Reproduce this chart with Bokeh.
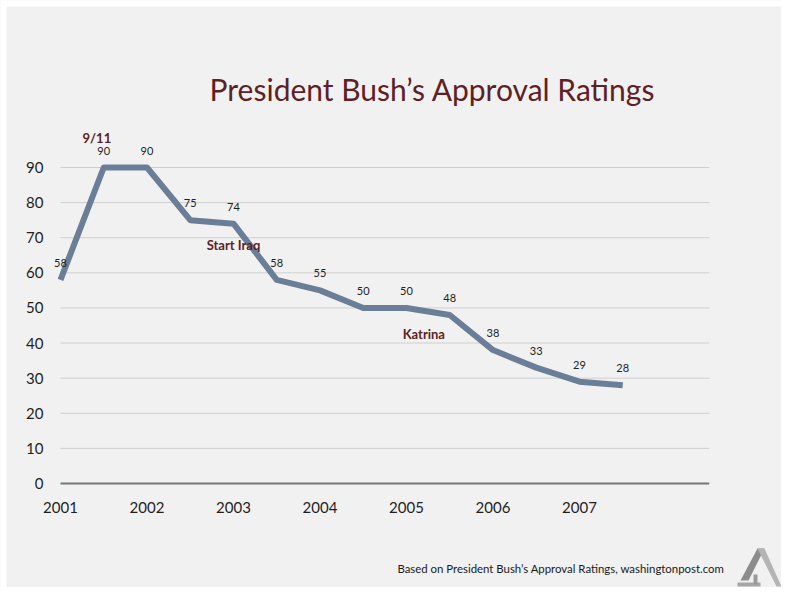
from bokeh.plotting import figure
from bokeh.models import Range1d, FixedTicker, Label, PolyAnnotation, BoxAnnotation, ColumnDataSource
from bokeh.embed import file_html
from bokeh.resources import INLINE
from bokeh.core.properties import value

# ---- data ----
years = [2001.0, 2001.5, 2002.0, 2002.5, 2003.0, 2003.5, 2004.0,
         2004.5, 2005.0, 2005.5, 2006.0, 2006.5, 2007.0, 2007.5]
approval = [58, 90, 90, 75, 74, 58, 55, 50, 50, 48, 38, 33, 29, 28]
year_ticks = [2001, 2002, 2003, 2004, 2005, 2006, 2007]
y_ticks = [0, 10, 20, 30, 40, 50, 60, 70, 80, 90]
event_names = ["9/11", "Start Iraq", "Katrina"]
event_x = [2001.42, 2003.0, 2005.2]
event_y = [98.3, 67.8, 42.7]
title_text = "President Bush\u2019s Approval Ratings"
source_text = "Based on President Bush\u2019s Approval Ratings, washingtonpost.com"

W, H = 781, 587
BG = "#f1f1f1"
MAROON = "#5e1f25"

# layout geometry (pixels)
X0_PX, PX_PER_YEAR = 60.0, 86.5      # where the first year sits, year spacing
Y0_PX, PX_PER_UNIT = 483.0, 3.511    # where 0 sits (from top), pixels per rating point
x_start = year_ticks[0] - X0_PX / PX_PER_YEAR
x_end = x_start + W / PX_PER_YEAR
y_start = -(H - Y0_PX) / PX_PER_UNIT
y_end = Y0_PX / PX_PER_UNIT

p = figure(width=W, height=H, output_backend="svg", toolbar_location=None,
           x_range=Range1d(x_start, x_end), y_range=Range1d(y_start, y_end),
           min_border=0)
p.background_fill_color = BG
p.border_fill_color = BG
p.outline_line_color = None
p.xgrid.visible = False
p.ygrid.visible = False

# thin white slide border at top and left
p.add_layout(BoxAnnotation(left=0, right=6, bottom=0, top=H, left_units="screen",
                           right_units="screen", bottom_units="screen", top_units="screen",
                           fill_color="white", fill_alpha=1, line_color=None))
p.add_layout(BoxAnnotation(left=0, right=W, bottom=H - 6, top=H, left_units="screen",
                           right_units="screen", bottom_units="screen", top_units="screen",
                           fill_color="white", fill_alpha=1, line_color=None))

# gridlines (restricted to the data span)
grid_end = year_ticks[-1] + 1.5
p.segment(x0=[year_ticks[0]] * (len(y_ticks) - 1), x1=[grid_end] * (len(y_ticks) - 1),
          y0=y_ticks[1:], y1=y_ticks[1:], line_color="#cfcfcf", line_width=1)
p.segment(x0=[year_ticks[0]], x1=[grid_end], y0=[y_ticks[0]], y1=[y_ticks[0]],
          line_color="#777777", line_width=2)

# axes, pinned inside the frame
for ax in (p.xaxis[0], p.yaxis[0]):
    ax.axis_line_color = None
    ax.major_tick_line_color = None
    ax.minor_tick_line_color = None
    ax.major_tick_out = 0
    ax.major_tick_in = 0
    ax.minor_tick_out = 0
    ax.major_label_text_font = "Lato"
    ax.major_label_text_font_size = "15px"
    ax.major_label_text_color = "#1e1e1e"
p.xaxis.ticker = FixedTicker(ticks=year_ticks)
p.yaxis.ticker = FixedTicker(ticks=y_ticks)
p.xaxis.fixed_location = y_ticks[0]
p.yaxis.fixed_location = year_ticks[0]
p.xaxis.major_label_standoff = 18
p.yaxis.major_label_standoff = 17

src = ColumnDataSource(dict(x=years, y=approval, label=[str(v) for v in approval]))
p.line("x", "y", source=src, line_color="#6a7e97", line_width=6, line_join="round")
p.text("x", "y", text="label", source=src, y_offset=-17,
       text_align="center", text_baseline="middle",
       text_font=value("Lato"), text_font_size="11px", text_color="#222222")

ev = ColumnDataSource(dict(x=event_x, y=event_y, t=event_names))
p.text("x", "y", text="t", source=ev, text_align="center", text_baseline="middle",
       text_font=value("Lato"), text_font_style="bold", text_font_size="13px",
       text_color=MAROON)

# title and source note (screen units: from frame's bottom-left)
p.add_layout(Label(x=432, y=H - 88, x_units="screen", y_units="screen", text=title_text,
                   text_align="center", text_baseline="middle", text_font="Lato",
                   text_font_size="30px", text_color=MAROON))
p.add_layout(Label(x=724, y=H - 568, x_units="screen", y_units="screen", text=source_text,
                   text_align="right", text_baseline="middle", text_font="Lato",
                   text_font_size="11.4px", text_color="#1a1a1a"))

# logo (stylised "A")
def logo_part(xs, ys_top, color):
    p.add_layout(PolyAnnotation(xs=xs, ys=[H - y for y in ys_top],
                                xs_units="screen", ys_units="screen",
                                fill_color=color, fill_alpha=1, line_color=None))

logo_part([757, 764, 748, 740], [548, 548, 580, 580], "#8c8c8c")
logo_part([757, 764, 781, 776], [548, 548, 586, 586], "#b4b4b4")
logo_part([737, 760, 760, 737], [582, 582, 586, 586], "#a6a6a6")
logo_part([753, 757, 757, 753], [574, 574, 584, 584], "#9a9a9a")

open("out.html", "w").write(file_html(p, INLINE))
